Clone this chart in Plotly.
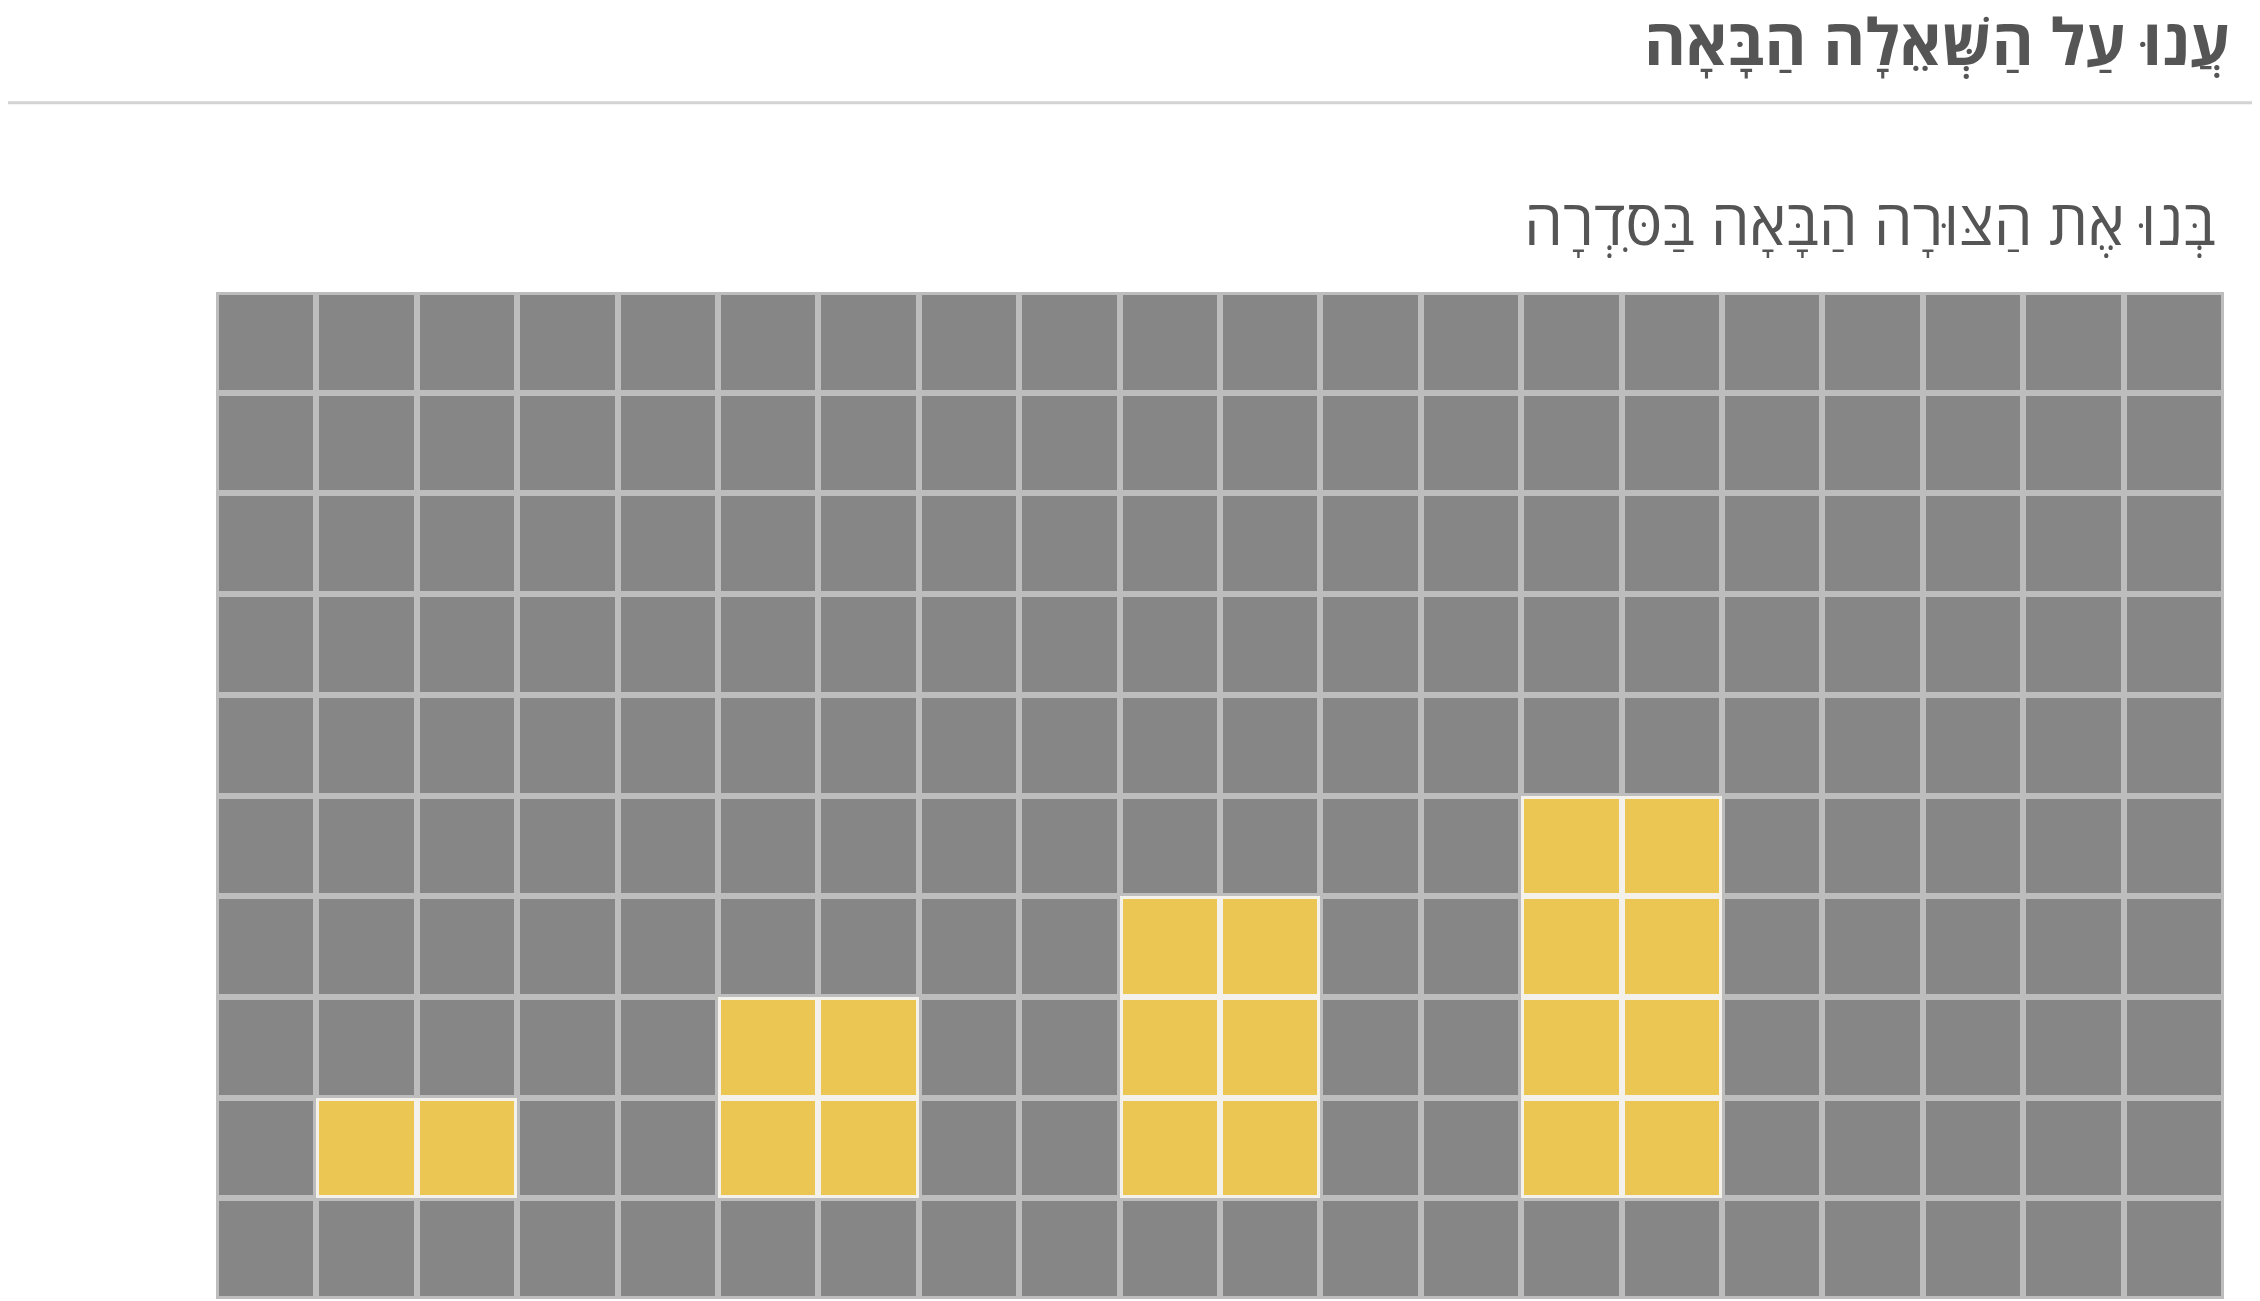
import plotly.graph_objects as go
import numpy as np

n_cols = 20
n_rows = 10
# yellow stacks: (left column, height); rows counted from bottom (0 = bottom row)
stack_cols = [1, 5, 9, 13]
stack_heights = [1, 2, 3, 4]
stack_width = 2
base_row = 1

title = "עֲנוּ עַל הַשְּׁאֵלָה הַבָּאָה"
subtitle = "בְּנוּ אֶת הַצּוּרָה הַבָּאָה בַּסִּדְרָה"

z = np.zeros((n_rows, n_cols))
for c, h in zip(stack_cols, stack_heights):
    for dc in range(stack_width):
        for r in range(base_row, base_row + h):
            z[r, c + dc] = 1
under = np.where(z == 1, 1.0, np.nan)

fig = go.Figure()
fig.add_trace(go.Heatmap(z=under, colorscale=[[0, "#f4f1ea"], [1, "#f4f1ea"]],
                         showscale=False, hoverinfo="skip"))
fig.add_trace(go.Heatmap(z=z, colorscale=[[0, "#868686"], [0.5, "#868686"], [0.5, "#ebc653"], [1, "#ebc653"]],
                         zmin=0, zmax=1, xgap=6, ygap=6, showscale=False))
fig.update_xaxes(visible=False, range=[-0.5, n_cols - 0.5])
fig.update_yaxes(visible=False, range=[-0.5, n_rows - 0.5])
fig.update_layout(
    width=2260, height=1301,
    margin=dict(l=208, r=44, t=284, b=10),
    paper_bgcolor="white", plot_bgcolor="#bdbdbd",
    font=dict(family="Open Sans, DejaVu Sans", color="#555555"),
    annotations=[
        dict(text="<b>" + title + "</b>", xref="paper", yref="paper", x=1.004, y=1.250,
             xanchor="right", yanchor="middle", showarrow=False, font=dict(size=64, color="#555555")),
        dict(text=subtitle, xref="paper", yref="paper", x=0.997, y=1.0705,
             xanchor="right", yanchor="middle", showarrow=False, font=dict(size=62, color="#555555")),
    ],
    shapes=[dict(type="line", xref="paper", yref="paper", x0=-0.2, x1=1.1, y0=1.188, y1=1.188,
                 line=dict(color="#d3d3d3", width=3))],
)
fig.write_html("out.html")
